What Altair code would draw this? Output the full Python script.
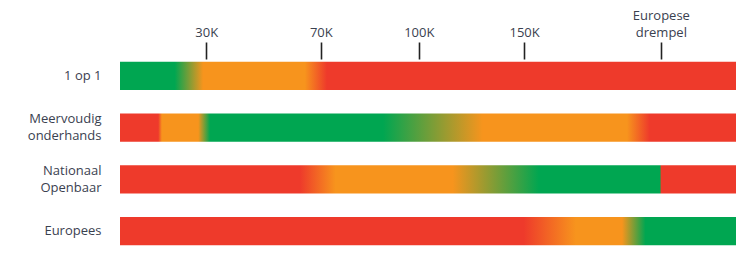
import altair as alt
import pandas as pd

# Rows (procedures)
rows = ["1 op 1", "Meervoudig onderhands", "Nationaal Openbaar", "Europees"]

# Threshold ticks on the top scale (position along the bar, 0-100)
tick_labels = ["30K", "70K", "100K", "150K", "Europese drempel"]
tick_positions = [14.0, 32.6, 48.5, 65.6, 87.8]

# Bar extent (position units)
bar_start = [0, 0, 0, 0]
bar_end = [100, 100, 100, 100]

GREEN = "#00a651"
ORANGE = "#f7941d"
RED = "#ee3a2b"

# Colour stops of each bar: (offset along bar, colour)
stops_1op1 = [(0.0, GREEN), (0.089, GREEN), (0.135, ORANGE), (0.300, ORANGE), (0.336, RED), (1.0, RED)]
stops_meervoudig = [(0.0, RED), (0.062, RED), (0.068, ORANGE), (0.127, ORANGE), (0.146, GREEN),
                    (0.427, GREEN), (0.589, ORANGE), (0.823, ORANGE), (0.860, RED), (1.0, RED)]
stops_nationaal = [(0.0, RED), (0.292, RED), (0.350, ORANGE), (0.540, ORANGE), (0.680, GREEN),
                   (0.877, GREEN), (0.878, RED), (1.0, RED)]
stops_europees = [(0.0, RED), (0.655, RED), (0.740, ORANGE), (0.815, ORANGE), (0.853, GREEN), (1.0, GREEN)]
all_stops = [stops_1op1, stops_meervoudig, stops_nationaal, stops_europees]

TEXT = "#3a4150"
FS = 13
LH = 17

# label expression for top axis
expr = "''"
multi_test = []
for pos, lab in reversed(list(zip(tick_positions, tick_labels))):
    if " " in lab:
        a, b = lab.split(" ", 1)
        val = f"['{a}', '{b}']"
        multi_test.append(f"datum.value == {pos}")
    else:
        val = f"'{lab}'"
    expr = f"datum.value == {pos} ? {val} : ({expr})"
x_multi = " || ".join(multi_test) if multi_test else "false"

x_scale = alt.Scale(domain=[0, 100], nice=False, zero=False)
y_scale = alt.Scale(domain=rows, paddingInner=0.45, paddingOuter=0.225)

x_axis = alt.Axis(orient="top", values=tick_positions, labelExpr=expr,
                  title=None, grid=False, domain=False, tickSize=17,
                  tickWidth=1.6, tickColor="#222222", offset=-9,
                  labelPadding={"condition": {"test": x_multi, "value": 3 + LH}, "value": 3},
                  labelFontSize=FS, labelColor=TEXT,
                  labelFont="Open Sans", labelLineHeight=LH,
                  labelFlush=False, labelOverlap=False)
y_multi = "datum.label != '1 op 1' && length(split(datum.label, ' ')) == 2"
y_axis = alt.Axis(title=None, domain=False, ticks=False, labelPadding=19,
                  labelFontSize=FS, labelColor=TEXT, labelFont="Open Sans",
                  labelLineHeight=LH, labelAlign="right",
                  labelOffset={"condition": {"test": y_multi, "value": -LH / 2}, "value": 0},
                  labelExpr="datum.label == '1 op 1' ? datum.label : split(datum.label, ' ')")

layers = []
for i, (row, stops) in enumerate(zip(rows, all_stops)):
    df = pd.DataFrame({"row": [row], "start": [bar_start[i]], "end": [bar_end[i]]})
    grad = alt.Gradient(
        gradient="linear",
        stops=[alt.GradientStop(color=c, offset=o) for o, c in stops],
        x1=0, x2=1, y1=0, y2=0,
    )
    if i == 0:
        enc_x = alt.X("start:Q", scale=x_scale, axis=x_axis)
        enc_y = alt.Y("row:N", scale=y_scale, sort=rows, axis=y_axis)
    else:
        enc_x = alt.X("start:Q", scale=x_scale)
        enc_y = alt.Y("row:N", scale=y_scale, sort=rows)
    layer = alt.Chart(df).mark_bar(color=grad, cornerRadius=0).encode(
        x=enc_x, x2="end:Q", y=enc_y,
    )
    layers.append(layer)

chart = alt.layer(*layers).properties(
    width=616, height=207,
    padding={"left": 120, "right": 15, "top": 50, "bottom": 6},
    autosize=alt.AutoSizeParams(type="none"),
    background="white",
).configure_view(stroke=None)

chart.save("out.html", embed_options={"renderer": "svg", "actions": False})
